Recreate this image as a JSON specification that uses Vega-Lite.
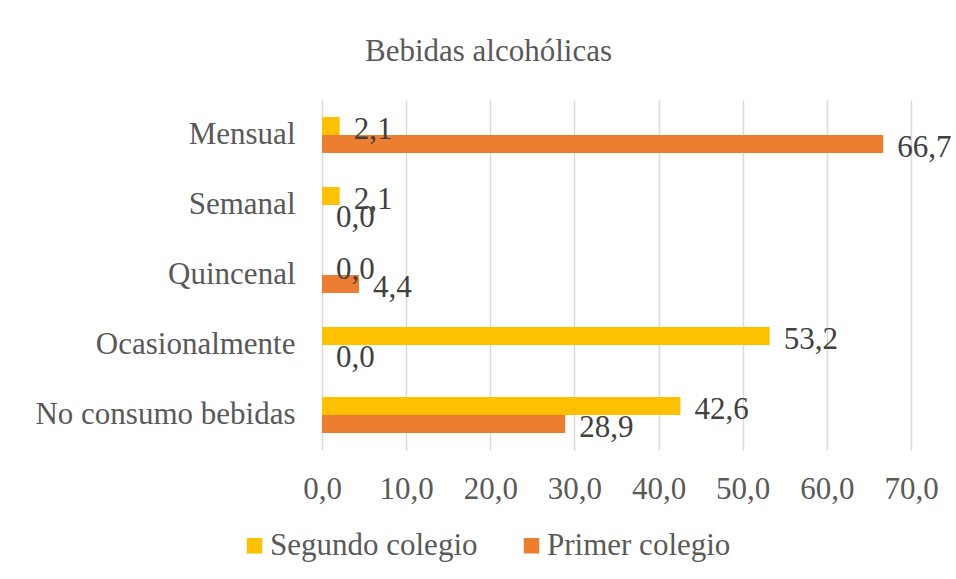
{
  "$schema": "https://vega.github.io/schema/vega-lite/v6.json",
  "width": 589,
  "height": 350,
  "autosize": {"type": "none"},
  "padding": {"left": 322, "top": 100, "right": 45, "bottom": 129},
  "background": "white",
  "title": {
    "text": "Bebidas alcohólicas",
    "font": "Liberation Serif",
    "fontSize": 31,
    "fontWeight": "normal",
    "color": "#595959",
    "anchor": "middle",
    "frame": "group",
    "dx": -128,
    "offset": 32
  },
  "data": {
    "values": [
      {"categoria": "Mensual", "serie": "Segundo colegio", "valor": 2.1},
      {"categoria": "Mensual", "serie": "Primer colegio", "valor": 66.7},
      {"categoria": "Semanal", "serie": "Segundo colegio", "valor": 2.1},
      {"categoria": "Semanal", "serie": "Primer colegio", "valor": 0.0},
      {"categoria": "Quincenal", "serie": "Segundo colegio", "valor": 0.0},
      {"categoria": "Quincenal", "serie": "Primer colegio", "valor": 4.4},
      {"categoria": "Ocasionalmente", "serie": "Segundo colegio", "valor": 53.2},
      {"categoria": "Ocasionalmente", "serie": "Primer colegio", "valor": 0.0},
      {"categoria": "No consumo bebidas", "serie": "Segundo colegio", "valor": 42.6},
      {"categoria": "No consumo bebidas", "serie": "Primer colegio", "valor": 28.9}
    ]
  },
  "encoding": {
    "y": {
      "field": "categoria",
      "type": "nominal",
      "sort": ["Mensual", "Semanal", "Quincenal", "Ocasionalmente", "No consumo bebidas"],
      "scale": {"paddingInner": 0, "paddingOuter": 0},
      "axis": {
        "title": null,
        "domain": false,
        "ticks": false,
        "labelPadding": 27,
        "labelFont": "Liberation Serif",
        "labelFontSize": 31,
        "labelColor": "#595959",
        "labelLimit": 400
      }
    },
    "yOffset": {
      "field": "serie",
      "type": "nominal",
      "sort": ["Segundo colegio", "Primer colegio"],
      "scale": {"paddingInner": 0, "paddingOuter": 0.944}
    },
    "x": {
      "field": "valor",
      "type": "quantitative",
      "scale": {"domain": [0, 70], "nice": false},
      "axis": {
        "title": null,
        "values": [0, 10, 20, 30, 40, 50, 60, 70],
        "format": ".1f",
        "domain": false,
        "ticks": false,
        "grid": true,
        "gridColor": "#D9D9D9",
        "gridWidth": 1.5,
        "labelFlush": false,
        "labelOverlap": false,
        "labelPadding": 24,
        "labelFont": "Liberation Serif",
        "labelFontSize": 31,
        "labelColor": "#595959"
      }
    }
  },
  "layer": [
    {
      "mark": {"type": "bar"},
      "encoding": {
        "color": {
          "field": "serie",
          "type": "nominal",
          "sort": ["Segundo colegio", "Primer colegio"],
          "scale": {"domain": ["Segundo colegio", "Primer colegio"], "range": ["#FFC000", "#ED7D31"]},
          "legend": {
            "title": null,
            "orient": "none",
            "direction": "horizontal",
            "legendX": -83,
            "legendY": 430,
            "symbolType": "square",
            "symbolSize": 240,
            "symbolStrokeWidth": 0,
            "labelFont": "Liberation Serif",
            "labelFontSize": 31,
            "labelColor": "#595959",
            "labelOffset": 0,
            "columnPadding": 38,
            "labelLimit": 300
          }
        }
      }
    },
    {
      "mark": {
        "type": "text",
        "align": "left",
        "baseline": "middle",
        "dx": 14,
        "dy": 4,
        "font": "Liberation Serif",
        "fontSize": 31,
        "color": "#404040"
      },
      "encoding": {
        "text": {"field": "valor", "type": "quantitative", "format": ".1f"}
      }
    }
  ],
  "config": {
    "locale": {
      "number": {"decimal": ",", "thousands": ".", "grouping": [3], "currency": ["", " €"]}
    },
    "view": {"stroke": null}
  }
}
